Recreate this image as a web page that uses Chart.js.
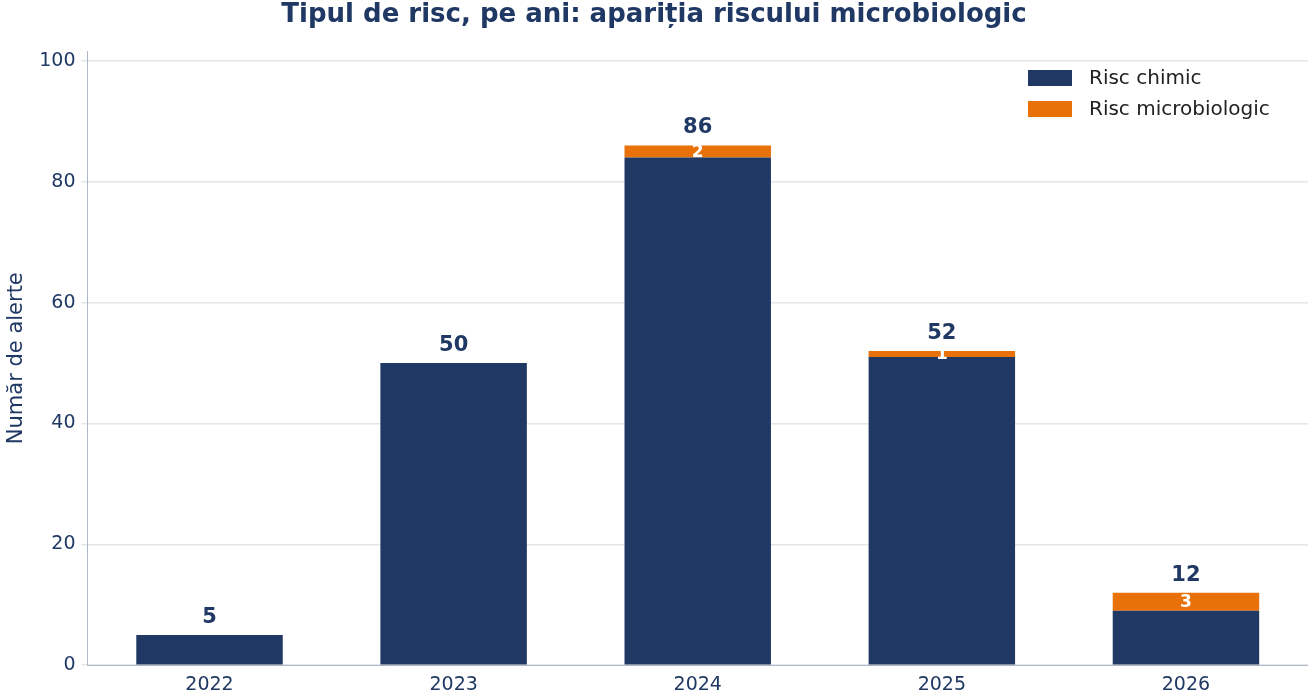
<!DOCTYPE html>
<html><head><meta charset="utf-8">
<script src="https://cdn.jsdelivr.net/npm/chart.js@4"></script>
<style>body{margin:0;background:#fff}#wrap{width:1308px;height:698px}</style>
</head><body><div id="wrap"><canvas id="c"></canvas></div>
<script>
const years = ['2022', '2023', '2024', '2025', '2026'];
const chimic = [5, 50, 84, 51, 9];
const micro = [0, 0, 2, 1, 3];
const navy = '#203864', orange = '#e8710a';
const font = 'DejaVu Sans';

const labelsPlugin = {
  id: 'labels',
  afterDatasetsDraw(chart) {
    const ctx = chart.ctx;
    ctx.save();
    ctx.textAlign = 'center';
    const m1 = chart.getDatasetMeta(1), m0 = chart.getDatasetMeta(0);
    years.forEach((y, i) => {
      if (micro[i] > 0) {
        const b = m1.data[i];
        ctx.fillStyle = '#fff';
        ctx.font = 'bold 17px ' + font;
        ctx.textBaseline = 'middle';
        ctx.fillText(micro[i], b.x, (b.y + b.base) / 2 + 1);
      }
      const top = micro[i] > 0 ? m1.data[i].y : m0.data[i].y;
      ctx.fillStyle = navy;
      ctx.font = 'bold 21px ' + font;
      ctx.textBaseline = 'bottom';
      ctx.fillText(chimic[i] + micro[i], m0.data[i].x, top - 7);
    });
    // legend
    const items = [['Risc chimic', navy], ['Risc microbiologic', orange]];
    ctx.textAlign = 'left'; ctx.textBaseline = 'middle';
    ctx.font = '20px ' + font;
    items.forEach((it, k) => {
      const yy = 78 + k * 31;
      ctx.fillStyle = it[1];
      ctx.fillRect(1028, yy - 8, 44, 16);
      ctx.fillStyle = '#222';
      ctx.fillText(it[0], 1089, yy + 1);
    });
    ctx.restore();
  }
};

new Chart(document.getElementById('c'), {
  type: 'bar',
  data: {
    labels: years,
    datasets: [
      { label: 'Risc chimic', data: chimic, backgroundColor: navy, stack: 's' },
      { label: 'Risc microbiologic', data: micro, backgroundColor: orange, stack: 's' }
    ]
  },
  options: {
    responsive: true, maintainAspectRatio: false, animation: false,
    layout: { padding: { top: 0, right: 0, left: 0, bottom: 0 } },
    datasets: { bar: { categoryPercentage: 0.6, barPercentage: 1 } },
    plugins: {
      legend: { display: false },
      tooltip: { enabled: false },
      title: { display: true, text: 'Tipul de risc, pe ani: apariția riscului microbiologic',
        color: navy, font: { family: font, size: 26, weight: 'bold' }, padding: { top: 0, bottom: 20 } }
    },
    scales: {
      x: { stacked: true,
        grid: { display: false, drawTicks: true, tickLength: 6, color: '#b0b8c8' },
        border: { color: '#b0b8c8' },
        ticks: { color: navy, font: { family: font, size: 19 }, padding: 2 } },
      y: { stacked: true, min: 0, max: 101.6,
        afterBuildTicks(s) { s.ticks = [0, 20, 40, 60, 80, 100].map(v => ({ value: v })); },
        grid: { color: '#e4e6ea', lineWidth: 1.5, tickLength: 6 },
        border: { color: '#b0b8c8' },
        ticks: { color: navy, font: { family: font, size: 19 }, padding: 6 },
        title: { display: true, text: 'Număr de alerte', color: navy, font: { family: font, size: 21 }, padding: 4 } }
    }
  },
  plugins: [labelsPlugin]
});
</script></body></html>
